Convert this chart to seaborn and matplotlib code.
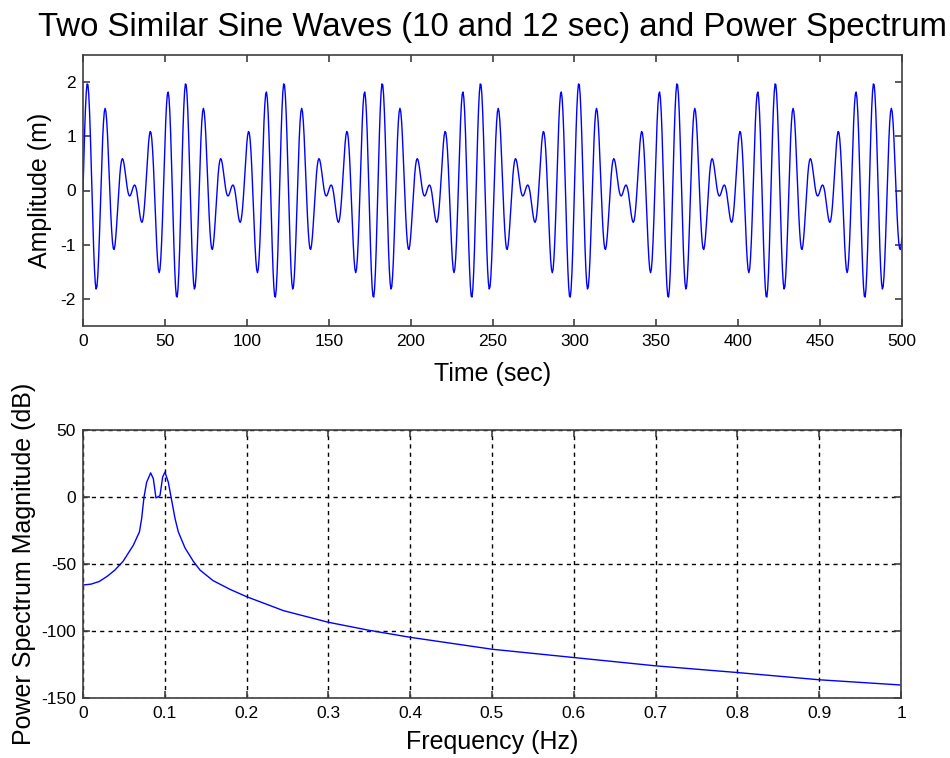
import numpy as np
import pandas as pd
import seaborn as sns
import matplotlib.pyplot as plt

# top panel: two sine waves, periods read from the title (sec), unit amplitude
periods = [10, 12]
amplitudes = [1.0, 1.0]
dt = 0.5
t_end = 500

# bottom panel: power spectrum
freq = [0, 0.01, 0.02, 0.03, 0.039, 0.049, 0.0615, 0.069, 0.0717, 0.0746,
        0.0778, 0.0827, 0.086, 0.0892, 0.0941, 0.0974, 0.1002, 0.1043,
        0.1084, 0.1125, 0.1165, 0.1247, 0.1349, 0.143, 0.159, 0.18, 0.2,
        0.245, 0.3, 0.35, 0.4, 0.5, 0.6, 0.7, 0.8, 0.9, 1.0]
power_db = [-65.7, -65, -63, -59, -54.5, -48, -36, -26, -16, 0,
            11, 18, 13.6, -0.7, 1, 15, 18.6, 11,
            -2.5, -16, -26, -38, -48, -54.5, -62.4, -69, -74.4,
            -84.8, -93.5, -99.5, -104.7, -113.6, -119.8, -126, -131, -136.4, -140.3]

time_ticks = list(range(0, 501, 50))
amp_ticks = [-2, -1, 0, 1, 2]
freq_ticks = [0, 0.1, 0.2, 0.3, 0.4, 0.5, 0.6, 0.7, 0.8, 0.9, 1]
freq_ticklabels = ["0", "0.1", "0.2", "0.3", "0.4", "0.5", "0.6", "0.7", "0.8", "0.9", "1"]
db_ticks = [-150, -100, -50, 0, 50]

t = np.arange(0, t_end + dt, dt)
wave = sum(a * np.sin(2 * np.pi * t / p) for a, p in zip(amplitudes, periods))
df_wave = pd.DataFrame({"time": t, "amp": wave})
df_spec = pd.DataFrame({"freq": freq, "db": power_db})

sns.set_theme(style="ticks", rc={
    "xtick.direction": "in", "ytick.direction": "in",
    "xtick.top": True, "ytick.right": True,
    "xtick.major.size": 5, "ytick.major.size": 5,
    "xtick.major.pad": 6, "ytick.major.pad": 5,
    "axes.edgecolor": "#404040", "axes.linewidth": 1.2,
    "xtick.color": "#404040", "ytick.color": "#404040",
    "xtick.labelcolor": "black", "ytick.labelcolor": "black",
    "text.color": "black", "axes.labelcolor": "black",
    "axes.unicode_minus": False,
})
plt.rcParams["font.family"] = ["Liberation Sans", "DejaVu Sans"]

fig = plt.figure(figsize=(9.5, 7.58), dpi=100)
ax1 = fig.add_axes([83 / 950, 1 - 326 / 758, 819 / 950, 271 / 758])
ax2 = fig.add_axes([83 / 950, 1 - 698 / 758, 818 / 950, 268 / 758])

#top: time series
sns.lineplot(data=df_wave, x="time", y="amp", ax=ax1, color="#0000ff",
             linewidth=1, estimator=None)
ax1.set_xlim(0, 500)
ax1.set_ylim(-2.5, 2.5)
ax1.set_xticks(time_ticks)
ax1.set_yticks(amp_ticks)
ax1.set_xlabel("Time (sec)", fontsize=18, labelpad=9)
ax1.set_ylabel("Amplitude (m)", fontsize=18, labelpad=6)
ax1.set_title("Two Similar Sine Waves (10 and 12 sec) and Power Spectrum",
              fontsize=23.8, pad=14)

#bottom: spectrum
sns.lineplot(data=df_spec, x="freq", y="db", ax=ax2, color="#0000ff",
             linewidth=1, estimator=None)
ax2.set_xlim(0, 1)
ax2.set_ylim(-150, 50)
ax2.set_xticks(freq_ticks)
ax2.set_xticklabels(freq_ticklabels)
ax2.set_yticks(db_ticks)
ax2.grid(True, color="black", linestyle=(0, (3, 3)), linewidth=1)
ax2.set_xlabel("Frequency (Hz)", fontsize=18, labelpad=6)
ax2.set_ylabel("Power Spectrum Magnitude (dB)", fontsize=18, labelpad=4)

for ax in (ax1, ax2):
    ax.tick_params(labelsize=12.5, width=1.2)
    for s in ax.spines.values():
        s.set_visible(True)

fig.savefig("out.png", dpi=100)
